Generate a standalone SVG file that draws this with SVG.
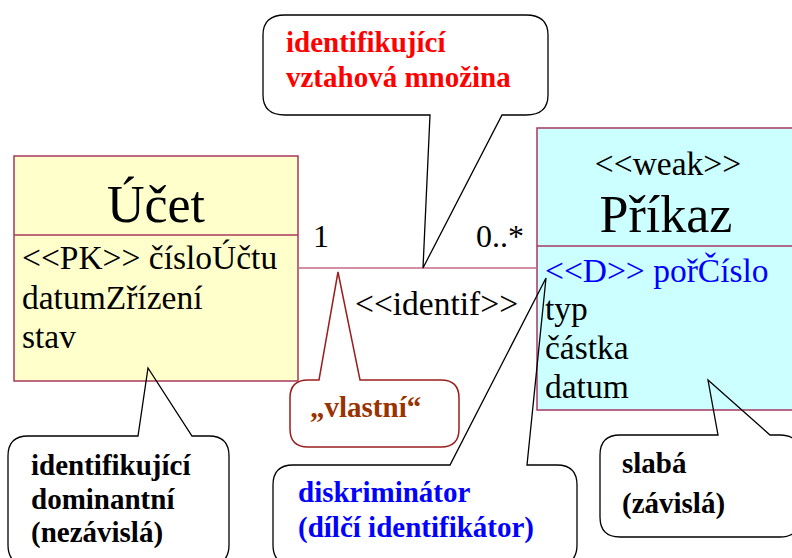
<svg xmlns="http://www.w3.org/2000/svg" xmlns:xlink="http://www.w3.org/1999/xlink" width="792" height="558" viewBox="0 0 792 558" font-family="Liberation Serif, serif">
  <style>
    .box { stroke: #A8385E; stroke-width: 1.5; }
    .t { fill: #000; }
    .title { font-size: 52px; }
    .attr { font-size: 33.5px; }
    .note { font-size: 29px; font-weight: bold; }
    .cfill { fill: #fff; stroke: none; }
    .cstroke { fill: none; stroke: #000; stroke-width: 1.3; }
    .cstroke-red { fill: none; stroke: #9A1E1E; stroke-width: 1.5; }
    .assoc { stroke: #C46A86; stroke-width: 1.5; fill: none; }
  </style>
  <defs>
    <path id="c-ident" d="M 285,15 H 526 Q 548,15 548,35 V 95 Q 548,115 526,115 H 502 L 423,268 L 430,115 H 285 Q 263,115 263,95 V 35 Q 263,15 285,15 Z"/>
    <path id="c-vlastni" d="M 308,380 H 319 L 338,272 L 360,380 H 441 Q 459,380 459,398 V 429 Q 459,447 441,447 H 308 Q 290,447 290,429 V 398 Q 290,380 308,380 Z"/>
    <path id="c-dom" d="M 28,436 H 138 L 148,368 L 192,436 H 209 Q 229,436 229,456 V 545 Q 229,565 209,565 H 28 Q 8,565 8,545 V 456 Q 8,436 28,436 Z"/>
    <path id="c-disk" d="M 293,465 H 450 L 546,278 L 527,465 H 557 Q 577,465 577,485 V 545 Q 577,565 557,565 H 293 Q 273,565 273,545 V 485 Q 273,465 293,465 Z"/>
    <path id="c-slaba" d="M 620,435 H 718 L 708,380 L 770,435 H 780 Q 800,435 800,455 V 517 Q 800,537 780,537 H 620 Q 600,537 600,517 V 455 Q 600,435 620,435 Z"/>
  </defs>

  <rect width="792" height="558" fill="#fff"/>

  <g id="callout-fills">
    <use xlink:href="#c-ident" class="cfill"/>
    <use xlink:href="#c-vlastni" class="cfill"/>
    <use xlink:href="#c-dom" class="cfill"/>
    <use xlink:href="#c-disk" class="cfill"/>
    <use xlink:href="#c-slaba" class="cfill"/>
  </g>

  <g id="ucet" font-family="Liberation Serif, serif">
    <rect class="box" x="14" y="156" width="284" height="225" fill="#FFFFCC"/>
    <line class="box" x1="14" y1="235" x2="298" y2="235"/>
    <text class="t title" x="156" y="222" text-anchor="middle">Účet</text>
    <text class="t attr" x="22" y="269">&lt;&lt;PK&gt;&gt; čísloÚčtu</text>
    <text class="t attr" x="22" y="309">datumZřízení</text>
    <text class="t attr" x="22" y="348">stav</text>
  </g>

  <g id="prikaz" font-family="Liberation Serif, serif">
    <rect class="box" x="537" y="128" width="262" height="282" fill="#CCFFFF"/>
    <line class="box" x1="537" y1="246" x2="799" y2="246"/>
    <text class="t attr" x="668" y="175" text-anchor="middle">&lt;&lt;weak&gt;&gt;</text>
    <text class="t title" x="666" y="232" text-anchor="middle">Příkaz</text>
    <text class="t attr" x="545" y="282" style="fill:#0000FF">&lt;&lt;D&gt;&gt; pořČíslo</text>
    <text class="t attr" x="545" y="320">typ</text>
    <text class="t attr" x="545" y="359">částka</text>
    <text class="t attr" x="545" y="398">datum</text>
  </g>

  <g id="connectors" font-family="Liberation Serif, serif">
    <line class="assoc" x1="298" y1="268" x2="537" y2="268"/>
    <text class="t attr" x="313" y="247" style="font-size:32px">1</text>
    <text class="t attr" x="476" y="247" style="font-size:32px">0..*</text>
    <text class="t attr" x="355" y="315">&lt;&lt;identif&gt;&gt;</text>
  </g>

  <g id="note-identifikujici-vztah" font-family="Liberation Serif, serif">
    <use xlink:href="#c-ident" class="cstroke"/>
    <text class="note" x="286" y="52" fill="#FF0000">identifikující</text>
    <text class="note" x="286" y="87" fill="#FF0000">vztahová množina</text>
  </g>

  <g id="note-vlastni" font-family="Liberation Serif, serif">
    <use xlink:href="#c-vlastni" class="cstroke-red"/>
    <text class="note" x="310" y="417" fill="#993300">„vlastní“</text>
  </g>

  <g id="note-dominantni" font-family="Liberation Serif, serif">
    <use xlink:href="#c-dom" class="cstroke"/>
    <text class="note" x="31" y="475" fill="#000">identifikující</text>
    <text class="note" x="31" y="509" fill="#000">dominantní</text>
    <text class="note" x="31" y="542" fill="#000">(nezávislá)</text>
  </g>

  <g id="note-diskriminator" font-family="Liberation Serif, serif">
    <use xlink:href="#c-disk" class="cstroke"/>
    <text class="note" x="298" y="502" fill="#0000FF">diskriminátor</text>
    <text class="note" x="298" y="537" fill="#0000FF">(dílčí identifikátor)</text>
  </g>

  <g id="note-slaba" font-family="Liberation Serif, serif">
    <use xlink:href="#c-slaba" class="cstroke"/>
    <text class="note" x="622" y="473" fill="#000">slabá</text>
    <text class="note" x="622" y="513" fill="#000">(závislá)</text>
  </g>
</svg>
